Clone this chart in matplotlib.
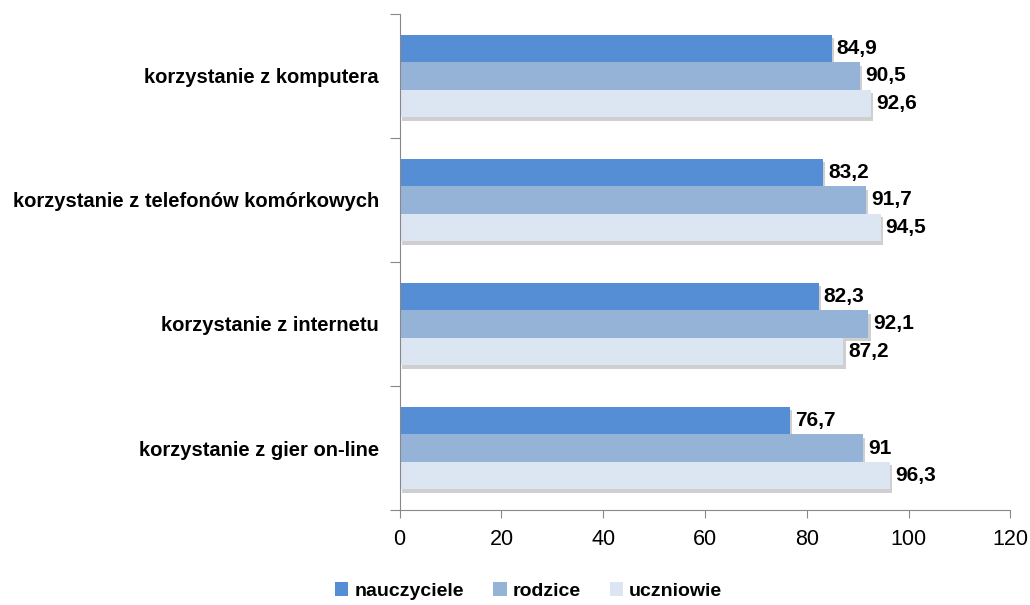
import matplotlib.pyplot as plt
import matplotlib.patheffects as pe
from matplotlib.patches import Patch
import numpy as np

plt.rcParams['font.family'] = ['Liberation Sans', 'DejaVu Sans']

kategorie = ['korzystanie z gier on-line', 'korzystanie z internetu',
             'korzystanie z telefonów komórkowych', 'korzystanie z komputera']
nauczyciele = [76.7, 82.3, 83.2, 84.9]
rodzice = [91, 92.1, 91.7, 90.5]
uczniowie = [96.3, 87.2, 94.5, 92.6]
etykiety_n = ['76,7', '82,3', '83,2', '84,9']
etykiety_r = ['91', '92,1', '91,7', '90,5']
etykiety_u = ['96,3', '87,2', '94,5', '92,6']

fig = plt.figure(figsize=(10.3, 6.05), dpi=100)
ax = fig.add_axes([0.388, 0.157, 0.593, 0.820])

y = np.arange(len(kategorie))
h = 0.222
cien = [pe.SimplePatchShadow(offset=(1.5, -2.5), shadow_rgbFace='#777777', alpha=0.35), pe.Normal()]

serie = [(nauczyciele, etykiety_n, '#558ED5', 'nauczyciele', h),
         (rodzice, etykiety_r, '#95B3D7', 'rodzice', 0),
         (uczniowie, etykiety_u, '#DCE6F2', 'uczniowie', -h)]
uchwyty = []
for vals, labs, col, name, off in serie:
    bars = ax.barh(y + off, vals, height=h, color=col)
    for b in bars:
        b.set_path_effects(cien)
    for v, t, yy in zip(vals, labs, y + off):
        ax.text(v + 1.0, yy, t, va='center', ha='left', fontsize=15,
                fontweight='bold')
    uchwyty.append(Patch(facecolor=col, label=name))

ax.set_xlim(0, 120)
ax.set_ylim(-0.5, 3.5)
ax.set_xticks(range(0, 121, 20))
ax.tick_params(axis='x', labelsize=15.5, length=6, color='#888888', pad=8)
ax.set_yticks(np.arange(-0.5, 4, 1))
ax.set_yticklabels([])
ax.tick_params(axis='y', which='major', length=7, color='#888888')
ax.set_yticks(y, minor=True)
ax.set_yticklabels(kategorie, minor=True, fontsize=14.5, fontweight='bold')
ax.tick_params(axis='y', which='minor', length=0, pad=15)
for s in ['top', 'right']:
    ax.spines[s].set_visible(False)
for s in ['left', 'bottom']:
    ax.spines[s].set_color('#888888')

ax.legend(handles=uchwyty, loc='upper center', bbox_to_anchor=(0.211, -0.11), ncol=3,
          frameon=False, prop={'weight': 'bold', 'size': 14},
          handlelength=0.7, handleheight=0.7, handletextpad=0.3, columnspacing=1.5)

fig.savefig('out.png', dpi=100)
